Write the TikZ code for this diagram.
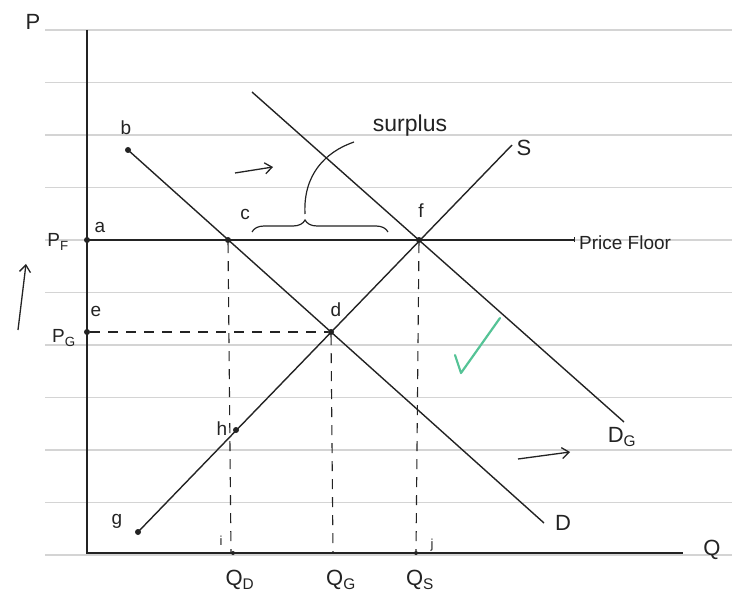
\documentclass[tikz,border=0pt]{standalone}
\usepackage{fontspec}
\setmainfont{Liberation Sans}
\usetikzlibrary{positioning,arrows.meta,decorations.pathreplacing}
\definecolor{PenGrey}{RGB}{35,35,35}
\definecolor{RuleGrey}{RGB}{212,212,212}
\definecolor{TickGreen}{RGB}{85,195,150}

\begin{document}
\begin{tikzpicture}[x=1pt,y=-1pt,
curve/.style={draw=PenGrey,line width=1.4pt},
guide/.style={draw=PenGrey,line width=1.1pt,dash pattern=on 10pt off 8pt},
lbl/.style={font=\fontsize{19}{22}\selectfont,text=PenGrey,inner sep=1pt},
big/.style={lbl,font=\fontsize{22}{26}\selectfont},
dot/.style={circle,fill=PenGrey,inner sep=0pt,minimum size=6pt},
arrow/.style={-{Straight Barb[length=7pt,width=11pt]},draw=PenGrey,line width=1.3pt}
]
\useasboundingbox (0,0) rectangle (732,607);
% ruled paper
\foreach \y in {30,82.5,...,610} \draw[RuleGrey,line width=1.3pt] (45,\y) -- (732,\y);
% axes
\coordinate (Ptop) at (87,30);
\coordinate (O) at (87,553);
\coordinate (Qend) at (683,553);
\draw[curve] (Ptop) -- (O) -- (Qend);
\node[big] (P) at (33,22) {P};
\node[big] (Q) at (712,550) {Q};
% points
\node[dot] (a) at (87,240) {};
\node[dot] (e) at (87,332) {};
\node[dot] (b) at (128,150) {};
\node[dot] (c) at (228,240) {};
\node[dot] (d) at (331,332) {};
\node[dot] (f) at (419,240) {};
\node[dot] (g) at (138,532) {};
\node[dot] (h) at (236,430) {};
\node[dot,minimum size=4pt] (i) at (233,553) {};
\node[dot,minimum size=4pt] (j) at (416,553) {};
\coordinate (iD) at (231,553);
\coordinate (iG) at (333,553);
\coordinate (Dend) at (544,523);
\coordinate (Send) at (512,145);
\coordinate (DGtop) at (252,92);
\coordinate (DGend) at (624,422);
\coordinate (floor) at (575,240);
% curves
\draw[curve] (b.center) -- (Dend);
\draw[curve] (g.center) -- (Send);
\draw[curve] (DGtop) -- (DGend);
\draw[curve,-{Bar[width=5pt]}] (a.center) -- (floor);
% guides
\draw[guide] (e) -- (d);
\draw[guide] (c) -- (iD);
\draw[guide] (d) -- (iG);
\draw[guide] (f) -- (j);
% point labels
\node[lbl] (la) at (100,227) {a};
\node[lbl] (lb) at (126,128) {b};
\node[lbl] (lc) at (245,214) {c};
\node[lbl] (ld) at (336,310) {d};
\node[lbl] (le) at (96,311) {e};
\node[lbl] (lf) at (421,211) {f};
\node[lbl] (lg) at (117,521) {g};
\node[lbl] (lh) at (222,429) {h};
\node[lbl,font=\fontsize{13}{15}\selectfont] (li) at (221,541) {i};
\node[lbl,font=\fontsize{13}{15}\selectfont] (lj) at (432,545) {j};
% axis labels
\node[lbl] (PF) at (58,242) {P\textsubscript{F}};
\node[lbl] (PG) at (64,338) {P\textsubscript{G}};
\node[big] (QD) at (240,580) {Q\textsubscript{D}};
\node[big] (QG) at (341,580) {Q\textsubscript{G}};
\node[big] (QS) at (420,580) {Q\textsubscript{S}};
\node[lbl,anchor=west] (pfloor) at (578,243) {Price Floor};
\node[big] (S) at (524,148) {S};
\node[big] (D) at (563,523) {D};
\node[big] (DG) at (622,437) {D\textsubscript{G}};
% surplus
\node[lbl,font=\fontsize{23}{27}\selectfont] (surplus) at (410,126) {surplus};
\draw[curve,line width=1.2pt,decorate,decoration={brace,amplitude=12pt,aspect=0.39}] (252,232) -- (388,232);
\coordinate (tip) at (305,214);
\coordinate (lead) at (354,142);
\draw[curve,line width=1.2pt] (tip) .. controls (303,175) and (325,152) .. (lead);
% shifts
\coordinate (up1) at (18,330); \coordinate (up2) at (26,264);
\draw[arrow] (up1) -- (up2);
\coordinate (r1) at (235,173); \coordinate (r2) at (273,167);
\draw[arrow] (r1) -- (r2);
\coordinate (r3) at (518,459); \coordinate (r4) at (570,452);
\draw[arrow] (r3) -- (r4);
% tick
\coordinate (t1) at (455,355); \coordinate (t2) at (461,373); \coordinate (t3) at (500,318);
\draw[TickGreen,line width=2.2pt,line cap=round,line join=round] (t1) -- (t2) -- (t3);
\end{tikzpicture}
\end{document}
